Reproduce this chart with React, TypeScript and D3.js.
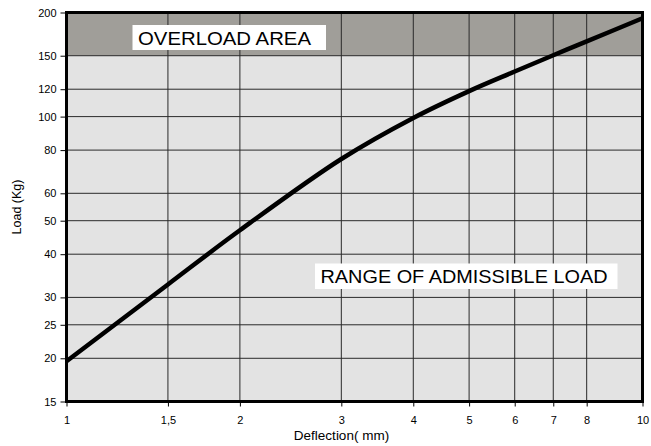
import React, { useEffect, useRef } from "react";
import * as d3 from "d3";

// deflection (mm) and load (kg)
const deflection = [1, 1.5, 2, 3, 4, 5, 6, 7, 8, 10];
const load = [19.6, 32.7, 46.9, 75.4, 99.1, 118.5, 135, 150.5, 165, 192.5];

const xTicks = [1, 1.5, 2, 3, 4, 5, 6, 7, 8, 10];
const xTickLabels = ["1", "1,5", "2", "3", "4", "5", "6", "7", "8", "10"];
const yTicks = [15, 20, 25, 30, 40, 50, 60, 80, 100, 120, 150, 200];

const overloadLimit = 150;

const App = () => {
  const svgRef = useRef<SVGSVGElement | null>(null);

  useEffect(() => {
    const width = 651;
    const height = 446;
    const margin = { top: 12.5, right: 8.5, bottom: 44.5, left: 66.5 };
    const font = "'Liberation Sans', Arial, sans-serif";

    const svg = d3.select(svgRef.current).attr("width", width).attr("height", height);
    svg.selectAll("*").remove();

    const x = d3.scaleLog().domain([1, 10]).range([margin.left, width - margin.right]);
    const y = d3.scaleLog().domain([15, 200]).range([height - margin.bottom, margin.top]);

    const [x0, x1] = x.range();
    const [yBottom, yTop] = y.range();

    // background zones
    svg.append("rect")
      .attr("x", x0).attr("y", yTop)
      .attr("width", x1 - x0).attr("height", yBottom - yTop)
      .attr("fill", "#e3e3e3");
    svg.append("rect")
      .attr("x", x0).attr("y", yTop)
      .attr("width", x1 - x0).attr("height", y(overloadLimit) - yTop)
      .attr("fill", "#a09e99");

    // grid
    svg.append("g")
      .selectAll("line")
      .data(xTicks.slice(1, -1))
      .enter()
      .append("line")
      .attr("x1", (d) => x(d)).attr("x2", (d) => x(d))
      .attr("y1", yTop).attr("y2", yBottom)
      .attr("stroke", "#2a2a2a").attr("stroke-width", 1);
    svg.append("g")
      .selectAll("line")
      .data(yTicks.slice(1, -1))
      .enter()
      .append("line")
      .attr("x1", x0).attr("x2", x1)
      .attr("y1", (d) => y(d)).attr("y2", (d) => y(d))
      .attr("stroke", "#2a2a2a").attr("stroke-width", 1);

    // Y axis
    const yAxis = svg.append("g")
      .attr("transform", `translate(${x0},0)`)
      .call(
        d3.axisLeft(y)
          .tickValues(yTicks)
          .tickFormat((d) => String(d))
          .tickSize(6)
          .tickPadding(4)
      );
    yAxis.select(".domain").remove();
    yAxis.selectAll("line").attr("stroke", "#000");
    yAxis.selectAll("text")
      .attr("font-family", font)
      .attr("font-size", 11)
      .attr("fill", "#000");

    // X axis
    const xAxis = svg.append("g")
      .attr("transform", `translate(0,${yBottom})`)
      .call(
        d3.axisBottom(x)
          .tickValues(xTicks)
          .tickFormat((d, i) => xTickLabels[i])
          .tickSize(5)
          .tickPadding(10)
      );
    xAxis.select(".domain").remove();
    xAxis.selectAll("line").attr("stroke", "#000");
    xAxis.selectAll("text")
      .attr("font-family", font)
      .attr("font-size", 11)
      .attr("fill", "#000");

    // labels inside plot
    const boxes = [
      { text: "OVERLOAD AREA", x: 132.5, y: 25, w: 193.5, h: 25, len: 173 },
      { text: "RANGE OF ADMISSIBLE LOAD", x: 315, y: 263.5, w: 302.5, h: 25.5, len: 287 },
    ];
    boxes.forEach((b) => {
      svg.append("rect")
        .attr("x", b.x).attr("y", b.y)
        .attr("width", b.w).attr("height", b.h)
        .attr("fill", "#fff");
      svg.append("text")
        .attr("x", b.x + 5.5)
        .attr("y", b.y + b.h / 2 + 7)
        .attr("font-family", font)
        .attr("font-size", 19)
        .attr("textLength", b.len)
        .attr("lengthAdjust", "spacingAndGlyphs")
        .attr("fill", "#000")
        .text(b.text);
    });

    // load curve
    const line = d3.line<number>()
      .x((d, i) => x(deflection[i]))
      .y((d) => y(d))
      .curve(d3.curveCatmullRom.alpha(0.5));
    svg.append("path")
      .attr("d", line(load))
      .attr("fill", "none")
      .attr("stroke", "#000")
      .attr("stroke-width", 4.5)
      .attr("stroke-linejoin", "round");

    // frame
    svg.append("rect")
      .attr("x", x0).attr("y", yTop)
      .attr("width", x1 - x0).attr("height", yBottom - yTop)
      .attr("fill", "none")
      .attr("stroke", "#000")
      .attr("stroke-width", 3);

    // axis titles
    svg.append("text")
      .attr("x", (x0 + x1) / 2 - 13)
      .attr("y", 440)
      .attr("text-anchor", "middle")
      .attr("font-family", font)
      .attr("font-size", 13.5)
      .attr("fill", "#000")
      .text("Deflection( mm)");
    svg.append("text")
      .attr("transform", `translate(21,${(yTop + yBottom) / 2}) rotate(-90)`)
      .attr("text-anchor", "middle")
      .attr("font-family", font)
      .attr("font-size", 12.5)
      .attr("fill", "#000")
      .text("Load (Kg)");
  }, []);

  return (
    <svg
      ref={svgRef}
      style={{ position: "absolute", left: 0, top: 0, display: "block", background: "#fff" }}
    ></svg>
  );
};

export default App;
